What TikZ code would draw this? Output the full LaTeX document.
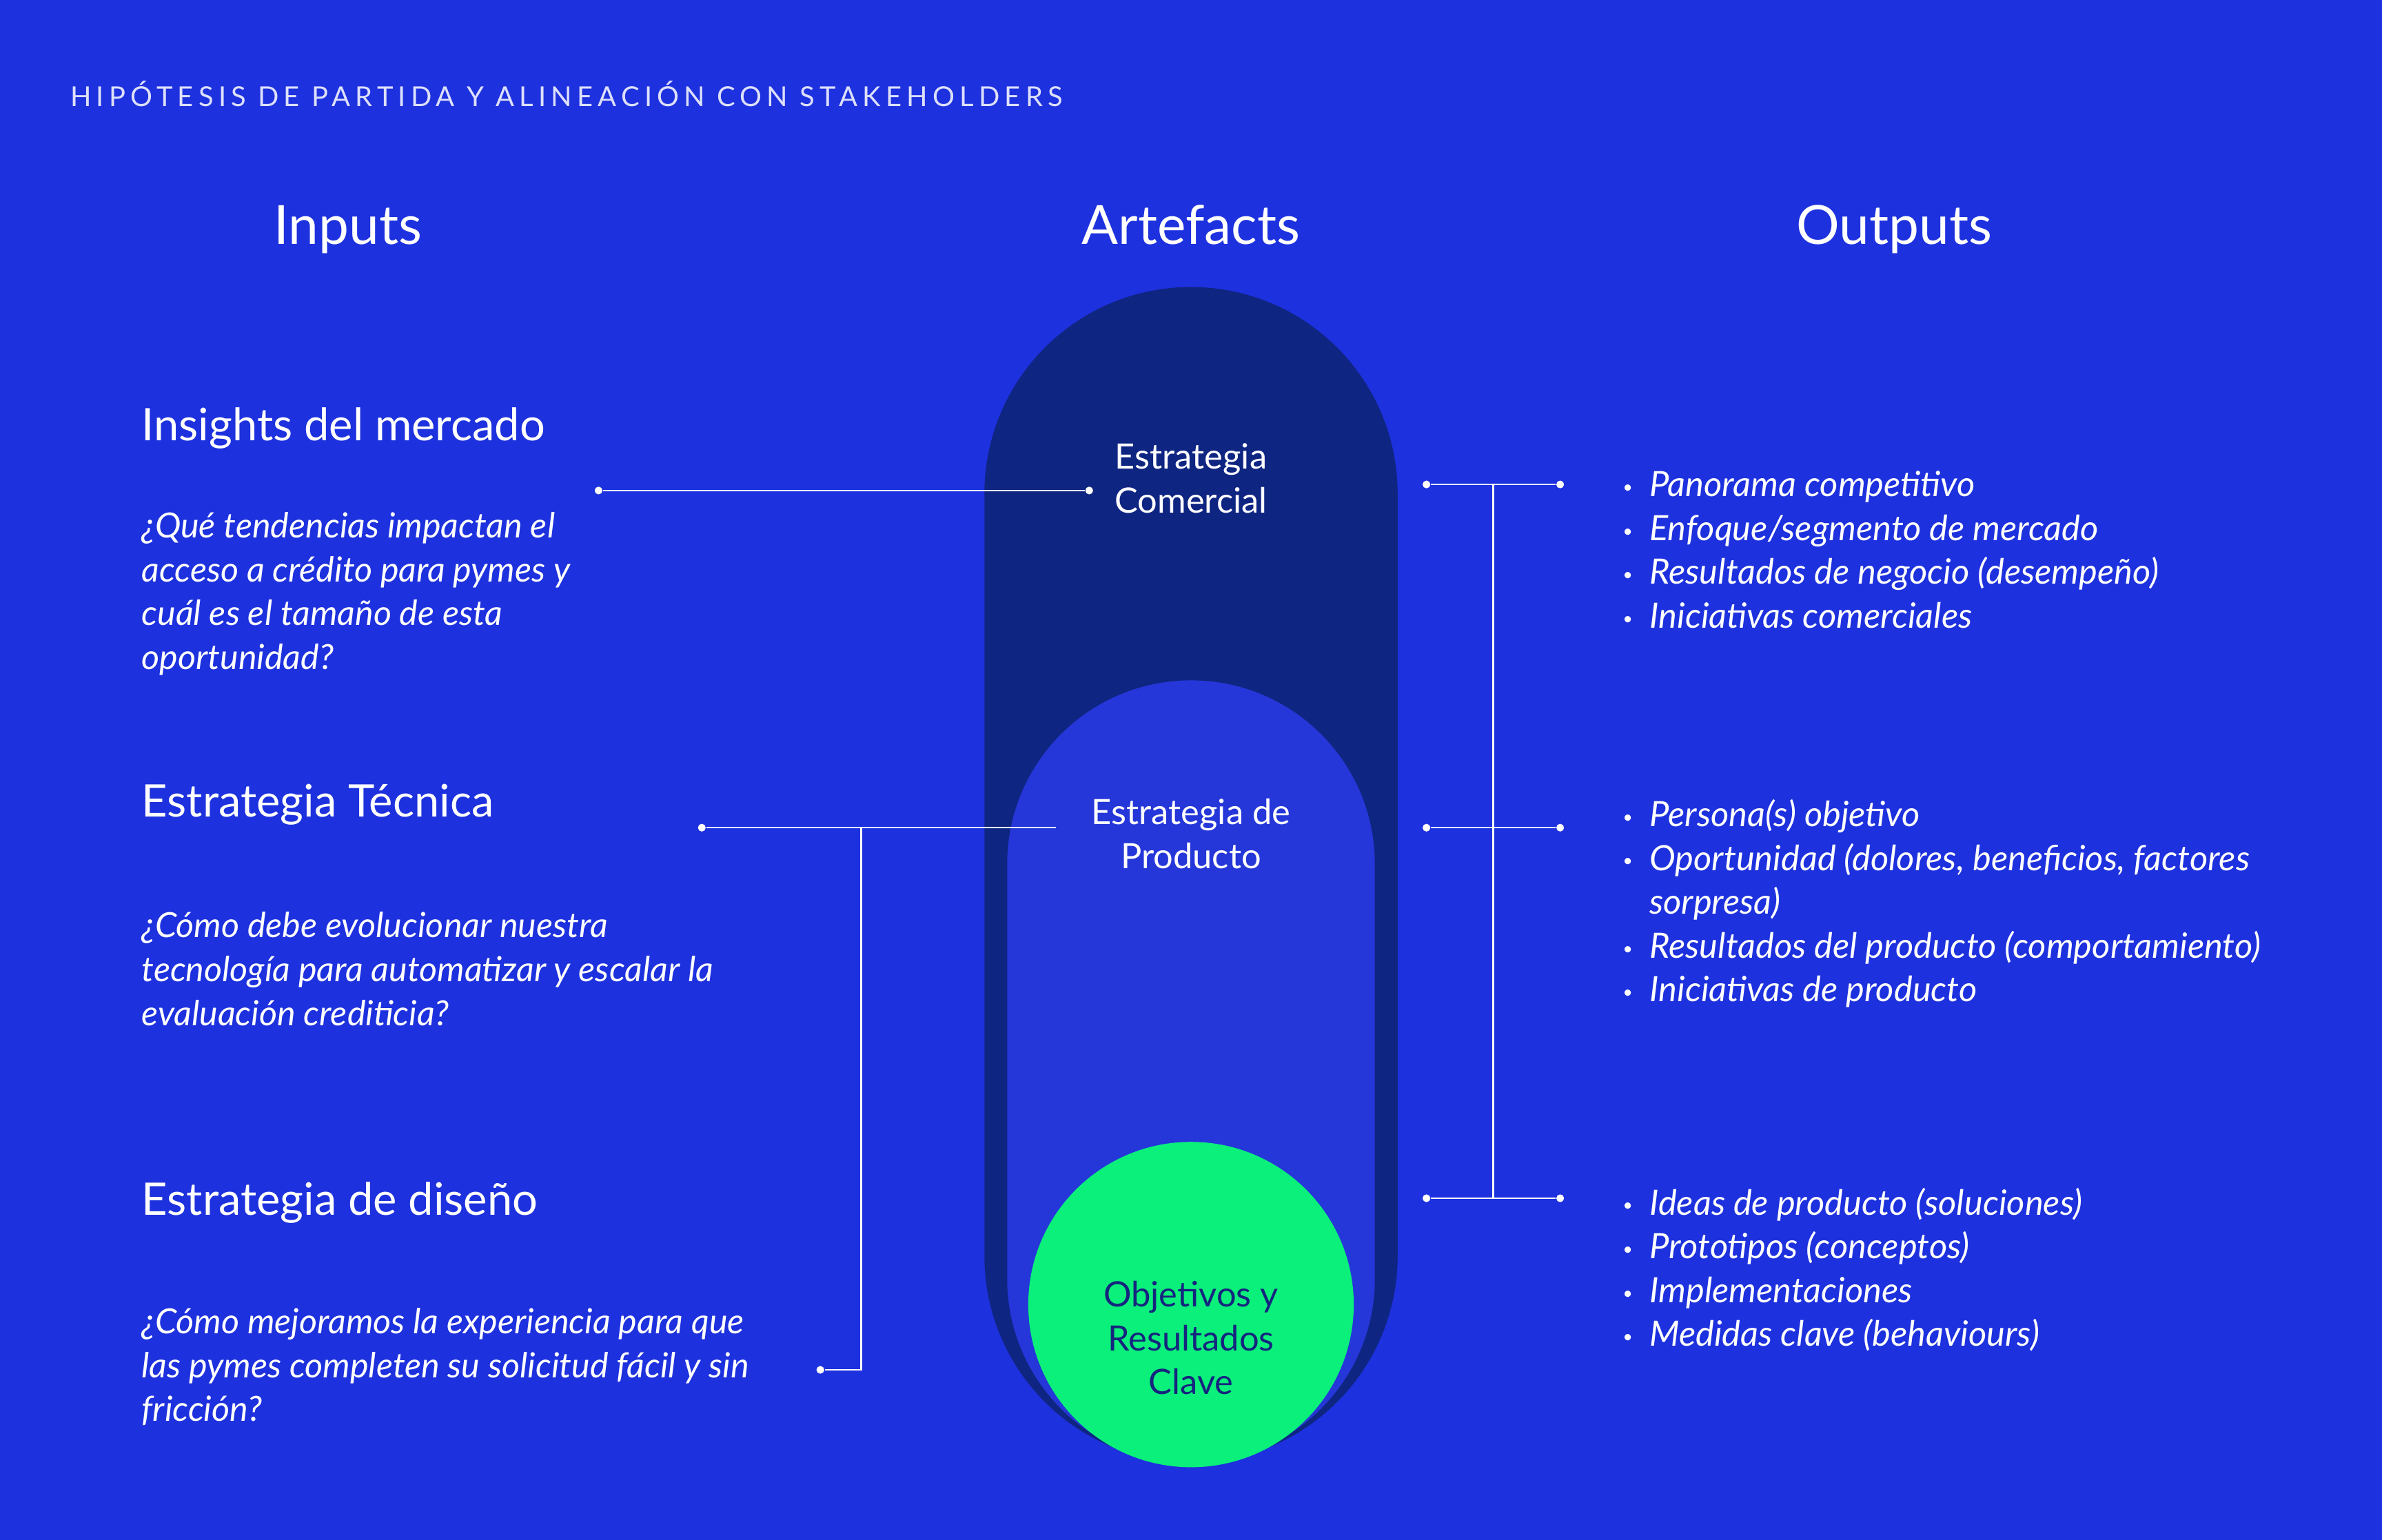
\documentclass[tikz,border=0pt]{standalone}
\usepackage{fontspec}
\setmainfont{Lato}
\newfontfamily\espaciada[LetterSpace=18]{Lato}
\usepackage{xcolor}
\usetikzlibrary{positioning, calc}

\definecolor{fondo}{HTML}{1D31DE}
\definecolor{oscuro}{HTML}{0F2582}
\definecolor{medio}{HTML}{2537D9}
\definecolor{verde}{HTML}{0BF07A}
\definecolor{tinta}{HTML}{15247E}

\newcommand{\vi}{\makebox[11pt][l]{\raisebox{0.2ex}{\scriptsize\textbullet}}}

\begin{document}
\begin{tikzpicture}[
	x=0.02204cm, y=0.02204cm,
	titulo/.style={text=white, inner sep=0pt, anchor=base, font=\fontsize{22.3}{26}\selectfont},
	tema/.style={text=white, anchor=west, inner sep=0pt, font=\fontsize{18.5}{22}\selectfont},
	pregunta/.style={text=white, anchor=west, inner sep=0pt, align=left, font=\fontsize{14.3}{18.1}\selectfont\itshape},
	lista/.style={text=white, anchor=west, inner sep=0pt, align=left, font=\fontsize{14.4}{18.1}\selectfont\itshape},
	artefacto/.style={text=white, align=center, inner sep=0pt, font=\fontsize{14.4}{18.1}\selectfont},
	punto/.style={circle, fill=white, inner sep=0pt, minimum size=3.2pt},
	linea/.style={draw=white, line width=0.7pt}
	]
	
	% Fondo
	\fill[fondo] (0,0) rectangle (1568,1014);
	
	% Titulo y columnas
	\node[anchor=base west, inner sep=0pt, text=white!85!fondo, font=\espaciada\fontsize{11.35}{13}\selectfont] (cabecera) at (46,944) {HIPÓTESIS DE PARTIDA Y ALINEACIÓN CON STAKEHOLDERS};
	\node[titulo] (inputs) at (229,853) {Inputs};
	\node[titulo] (artefacts) at (784,853) {Artefacts};
	\node[titulo] (outputs) at (1247,853) {Outputs};
	
	% Capsulas
	\fill[oscuro] (648,689) arc[start angle=180, end angle=0, radius=136]
		-- (920,187) arc[start angle=0, end angle=-180, radius=136] -- cycle;
	\fill[medio] (663,445) arc[start angle=180, end angle=0, radius=121]
		-- (905,172) arc[start angle=0, end angle=-180, radius=121] -- cycle;
	
	\node[artefacto] (comercial) at (784,699) {Estrategia\\Comercial};
	\node[artefacto] (producto) at (784,465) {Estrategia de\\Producto};
	\node[circle, fill=verde, minimum size=4.72cm, inner sep=0pt] (okr) at (784,155) {};
	\node[artefacto, text=tinta] (okrtexto) at (784,133) {Objetivos y\\Resultados\\Clave};
	
	% Inputs
	\node[tema] (insights) at (93,732) {Insights del mercado};
	\node[pregunta] (q1) at (93,623) {¿Qué tendencias impactan el\\acceso a crédito para pymes y\\cuál es el tamaño de esta\\oportunidad?};
	\node[tema] (tecnica) at (93,484) {Estrategia Técnica};
	\node[pregunta] (q2) at (93,376) {¿Cómo debe evolucionar nuestra\\tecnología para automatizar y escalar la\\evaluación crediticia?};
	\node[tema] (diseno) at (93,222) {Estrategia de diseño};
	\node[pregunta] (q3) at (93,114) {¿Cómo mejoramos la experiencia para que\\las pymes completen su solicitud fácil y sin\\fricción?};
	
	% Conectores izquierda
	\node[punto] (p1a) at (394,691) {};
	\node[punto] (p1b) at (717,691) {};
	\draw[linea] (p1a) -- (p1b);
	
	\node[punto] (p2a) at (462,469) {};
	\coordinate (p2b) at (695,469);
	\coordinate (p2j) at (567,469);
	\node[punto] (p3a) at (540,112) {};
	\draw[linea] (p2a) -- (p2b);
	\draw[linea] (p2j) |- (p3a);
	
	% Conectores derecha
	\foreach \n/\y in {1/695, 2/469, 3/225} {
		\node[punto] (ra\n) at (939,\y) {};
		\node[punto] (rb\n) at (1027,\y) {};
		\draw[linea] (ra\n) -- (rb\n);
	}
	\draw[linea] ($(ra1)!0.5!(rb1)$) -- ($(ra3)!0.5!(rb3)$);
	
	% Outputs
	\node[lista] (out1) at (1068,652) {\vi Panorama competitivo\\\vi Enfoque/segmento de mercado\\\vi Resultados de negocio (desempeño)\\\vi Iniciativas comerciales};
	\node[lista] (out2) at (1068,419) {\vi Persona(s) objetivo\\\vi Oportunidad (dolores, beneficios, factores\\\hspace*{11pt}sorpresa)\\\vi Resultados del producto (comportamiento)\\\vi Iniciativas de producto};
	\node[lista] (out3) at (1068,178) {\vi Ideas de producto (soluciones)\\\vi Prototipos (conceptos)\\\vi Implementaciones\\\vi Medidas clave (behaviours)};
	
\end{tikzpicture}
\end{document}
